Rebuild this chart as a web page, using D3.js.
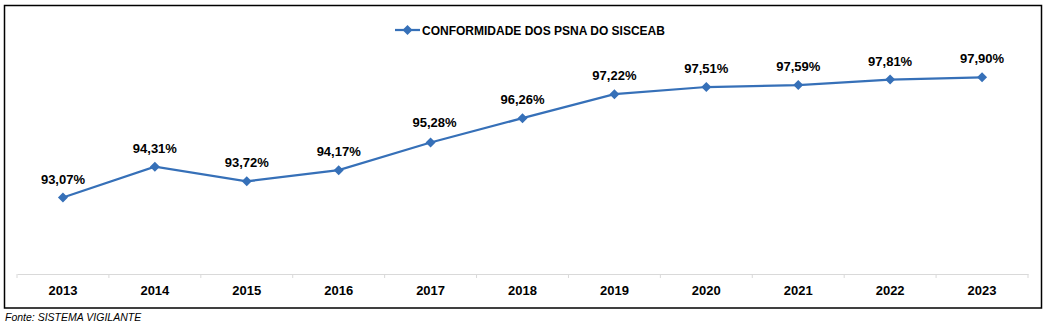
<!DOCTYPE html>
<html><head><meta charset="utf-8">
<script src="https://cdn.jsdelivr.net/npm/d3@7/dist/d3.min.js"></script>
<style>body{margin:0;background:#fff}svg{display:block}text{font-family:"Liberation Sans",Arial,sans-serif}</style>
</head><body><svg id="c" width="1047" height="326"></svg>
<script>
const years = ["2013","2014","2015","2016","2017","2018","2019","2020","2021","2022","2023"];
const values = [93.07,94.31,93.72,94.17,95.28,96.26,97.22,97.51,97.59,97.81,97.90];
const labels = ["93,07%","94,31%","93,72%","94,17%","95,28%","96,26%","97,22%","97,51%","97,59%","97,81%","97,90%"];
const seriesName = "CONFORMIDADE DOS PSNA DO SISCEAB";
const source = "Fonte: SISTEMA VIGILANTE";

const svg = d3.select("#c");
const color = "#3670b8";
svg.append("rect").attr("x",4.5).attr("y",5.5).attr("width",1037).attr("height",302.5)
  .attr("fill","#fff").attr("stroke","#000").attr("stroke-width",1.5);

const x = d3.scaleBand().domain(years).range([17,1028]);
const y = d3.scaleLinear().domain([90,100]).range([274,25]);

const ax = svg.append("g").attr("transform","translate(0,274)")
  .call(d3.axisBottom(x).tickSize(0).tickPadding(12));
ax.select(".domain").attr("stroke","#d9d9d9");
ax.selectAll("text").attr("font-size",13).attr("font-weight","bold").attr("fill","#000").attr("font-family","Liberation Sans, Arial, sans-serif");
const bounds = years.map(d=>x(d)).concat([x.range()[1]]);
svg.append("g").selectAll("line").data(bounds).join("line")
  .attr("x1",d=>d).attr("x2",d=>d).attr("y1",274).attr("y2",278).attr("stroke","#d9d9d9");

const cx = d=>x(d)+x.bandwidth()/2;
const line = d3.line().x((d,i)=>cx(years[i])).y(d=>y(d));
svg.append("path").datum(values).attr("d",line).attr("fill","none").attr("stroke",color).attr("stroke-width",2.25);
const diamond = "M0,-5L5,0L0,5L-5,0Z";
svg.append("g").selectAll("path").data(values).join("path")
  .attr("d",diamond).attr("fill",color)
  .attr("transform",(d,i)=>`translate(${cx(years[i])},${y(d)})`);
svg.append("g").selectAll("text").data(values).join("text")
  .attr("x",(d,i)=>cx(years[i])+(i===4?4:0)).attr("y",(d,i)=>y(d)-(i===4?16:14))
  .attr("text-anchor","middle").attr("font-size",13).attr("font-weight","bold").attr("fill","#000")
  .text((d,i)=>labels[i]);

// legend
const lg = svg.append("g");
lg.append("line").attr("x1",395).attr("x2",420).attr("y1",30).attr("y2",30).attr("stroke",color).attr("stroke-width",2.25);
lg.append("path").attr("d",diamond).attr("fill",color).attr("transform","translate(407.5,30)");
lg.append("text").attr("x",422).attr("y",34.5).attr("font-size",12).attr("font-weight","bold").attr("fill","#000").text(seriesName);

svg.append("text").attr("x",5).attr("y",321).attr("font-size",10.5).attr("font-style","italic").attr("fill","#000").text(source);
</script></body></html>
